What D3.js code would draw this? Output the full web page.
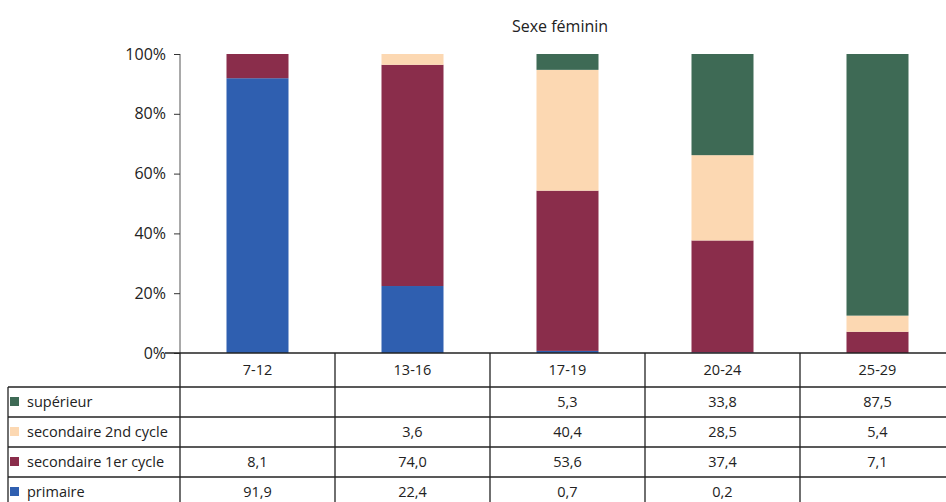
<!DOCTYPE html>
<html>
<head>
<meta charset="utf-8">
<script src="https://cdn.jsdelivr.net/npm/d3@7"></script>
<style>
  html, body { margin: 0; padding: 0; background: #fff; }
  svg { display: block; }
  text { font-family: "Open Sans", "Liberation Sans", sans-serif; fill: #222; }
</style>
</head>
<body>
<svg id="chart" width="946" height="502"></svg>
<script>
// Age groups (columns)
const categories = ["7-12", "13-16", "17-19", "20-24", "25-29"];

// Education level shares (%) by age group, women
const primaire        = [91.9, 22.4, 0.7, 0.2, null];
const secondaire1er   = [8.1, 74.0, 53.6, 37.4, 7.1];
const secondaire2nd   = [null, 3.6, 40.4, 28.5, 5.4];
const superieur       = [null, null, 5.3, 33.8, 87.5];

// Series in stacking order (bottom to top)
const seriesNames  = ["primaire", "secondaire 1er cycle", "secondaire 2nd cycle", "supérieur"];
const seriesValues = [primaire, secondaire1er, secondaire2nd, superieur];
const seriesColors = ["#2f5fb0", "#8a2d4b", "#fcd8b2", "#3e6a55"];

const yTicks = [0, 0.2, 0.4, 0.6, 0.8, 1];
const title = "Sexe féminin";

const svg = d3.select("#chart");

const plotLeft = 180, colStep = 155;
const plotRight = plotLeft + colStep * categories.length;
const plotTop = 54, plotBottom = 353;

// Rows for d3.stack
const rows = categories.map((c, i) => {
  const r = { cat: c };
  seriesNames.forEach((s, k) => { r[s] = seriesValues[k][i] || 0; });
  return r;
});

const stack = d3.stack().keys(seriesNames).offset(d3.stackOffsetExpand);
const stacked = stack(rows);

const x = d3.scaleBand().domain(categories).range([plotLeft, plotRight])
  .paddingInner(0.6).paddingOuter(0.3);
const xCol = d3.scaleBand().domain(categories).range([plotLeft, plotRight]).padding(0);
const y = d3.scaleLinear().domain([0, 1]).range([plotBottom, plotTop]);
const color = d3.scaleOrdinal().domain(seriesNames).range(seriesColors);

// Title
svg.append("text")
  .attr("x", 560).attr("y", 32)
  .attr("text-anchor", "middle")
  .style("font-size", "16px")
  .text(title);

// Bars
svg.append("g").selectAll("g")
  .data(stacked)
  .join("g")
  .attr("fill", d => color(d.key))
  .selectAll("rect")
  .data(d => d)
  .join("rect")
  .attr("x", d => x(d.data.cat))
  .attr("width", x.bandwidth())
  .attr("y", d => y(d[1]))
  .attr("height", d => y(d[0]) - y(d[1]));

// Y axis
const yAxis = d3.axisLeft(y).tickValues(yTicks).tickFormat(d3.format(".0%"))
  .tickSize(6).tickPadding(8);
const gy = svg.append("g").attr("transform", `translate(${plotLeft},0)`).call(yAxis);
gy.select(".domain").attr("stroke", "#555").attr("d", `M0,${plotTop}V${plotBottom}`);
gy.selectAll(".tick line").attr("stroke", "#333");
gy.selectAll(".tick text").style("font-size", "16px").attr("fill", "#222");

// Data table below the plot
const rowH = 30;
const headerTop = plotBottom, headerBottom = 387;
const tableLeft = 8;
const tableRows = seriesNames.slice().reverse(); // supérieur on top
const tableVals = seriesValues.slice().reverse();
const tableBottom = headerBottom + rowH * tableRows.length;
const line = svg.append("g").attr("stroke", "#222").attr("stroke-width", 1.3);

// baseline / header top
line.append("line").attr("x1", plotLeft - 15).attr("x2", 946)
  .attr("y1", headerTop).attr("y2", headerTop);
// horizontal row lines
[headerBottom].concat(tableRows.map((_, i) => headerBottom + rowH * (i + 1))).forEach(yy => {
  line.append("line").attr("x1", tableLeft).attr("x2", 946).attr("y1", yy).attr("y2", yy);
});
// vertical column lines
line.append("line").attr("x1", tableLeft).attr("x2", tableLeft)
  .attr("y1", headerBottom).attr("y2", tableBottom);
categories.forEach(c => {
  const xx = xCol(c);
  line.append("line").attr("x1", xx).attr("x2", xx)
    .attr("y1", headerTop).attr("y2", tableBottom);
});
line.append("line").attr("x1", plotRight).attr("x2", plotRight)
  .attr("y1", headerTop).attr("y2", tableBottom);

// category labels
svg.append("g").selectAll("text")
  .data(categories)
  .join("text")
  .attr("x", d => xCol(d) + xCol.bandwidth() / 2)
  .attr("y", (headerTop + headerBottom) / 2 + 5)
  .attr("text-anchor", "middle")
  .style("font-size", "14.5px")
  .text(d => d);

const fmt = v => v == null ? "" : d3.format(".1f")(v).replace(".", ",");

tableRows.forEach((name, r) => {
  const cy = headerBottom + rowH * r + rowH / 2;
  svg.append("rect")
    .attr("x", 10).attr("y", cy - 5).attr("width", 9).attr("height", 9)
    .attr("fill", color(name));
  svg.append("text")
    .attr("x", 27).attr("y", cy + 5)
    .style("font-size", "14.5px")
    .text(name);
  svg.append("g").selectAll("text")
    .data(categories)
    .join("text")
    .attr("x", d => xCol(d) + xCol.bandwidth() / 2)
    .attr("y", cy + 5)
    .attr("text-anchor", "middle")
    .style("font-size", "14.5px")
    .text((d, i) => fmt(tableVals[r][i]));
});
</script>
</body>
</html>
